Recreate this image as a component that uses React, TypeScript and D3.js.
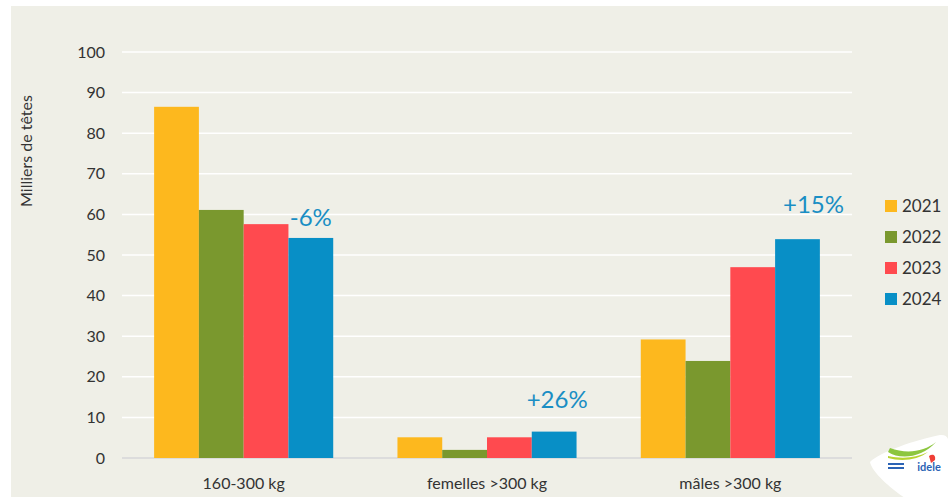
import { useEffect, useRef } from 'react';
import * as d3 from 'd3';

const categories = ['160-300 kg', 'femelles >300 kg', 'mâles >300 kg'];
const years = ['2021', '2022', '2023', '2024'];
const colors = ['#fdb81e', '#7a982e', '#ff4a4f', '#088fc6'];
// values per year, one entry per category (milliers de têtes)
const v2021 = [86.5, 5.1, 29.2];
const v2022 = [61.1, 2.0, 23.9];
const v2023 = [57.6, 5.1, 47.0];
const v2024 = [54.2, 6.5, 53.9];
const changes = ['-6%', '+26%', '+15%'];
const yTicks = [0, 10, 20, 30, 40, 50, 60, 70, 80, 90, 100];

export default function App() {
  const svgRef = useRef<SVGSVGElement>(null);

  useEffect(() => {
    if (!svgRef.current) return;
    const svg = d3.select(svgRef.current);
    svg.selectAll('*').remove();

    const W = 948, H = 498;
    const font = 'Lato, "Open Sans", sans-serif';
    const series = [v2021, v2022, v2023, v2024];

    svg.append('rect').attr('width', W).attr('height', H).attr('fill', '#ffffff');
    svg.append('rect').attr('x', 11).attr('y', 6).attr('width', W - 11).attr('height', H - 7).attr('fill', '#efefe7');

    const left = 122, right = 852, top = 52, bottom = 458;

    const x0 = d3.scaleBand<string>().domain(categories).range([left, right]).paddingInner(0.264).paddingOuter(0.132);
    const x1 = d3.scaleBand<string>().domain(years).range([0, x0.bandwidth()]);
    const y = d3.scaleLinear().domain([0, 100]).range([bottom, top]);

    // grid
    svg.append('g').selectAll('line').data(yTicks.filter(t => t > 0)).join('line')
      .attr('x1', left).attr('x2', right)
      .attr('y1', d => y(d)).attr('y2', d => y(d))
      .attr('stroke', '#ffffff').attr('stroke-width', 1.5);

    svg.append('line').attr('x1', left).attr('x2', right).attr('y1', y(0)).attr('y2', y(0))
      .attr('stroke', '#d6d6d8').attr('stroke-width', 1.5);

    // y tick labels
    svg.append('g').selectAll('text').data(yTicks).join('text')
      .attr('x', 105).attr('y', d => y(d)).attr('dy', '0.35em')
      .attr('text-anchor', 'end').attr('font-family', font).attr('font-size', 16).attr('fill', '#333')
      .text(d => d);

    svg.append('text')
      .attr('transform', `translate(32,151) rotate(-90)`)
      .attr('text-anchor', 'middle').attr('font-family', font).attr('font-size', 16).attr('fill', '#333')
      .text('Milliers de têtes');

    // bars
    const groups = svg.append('g').selectAll('g').data(categories).join('g')
      .attr('transform', d => `translate(${x0(d)},0)`);

    groups.selectAll('rect').data((_, ci) => years.map((yr, si) => ({ yr, si, v: series[si][ci] }))).join('rect')
      .attr('x', d => x1(d.yr)!)
      .attr('width', x1.bandwidth())
      .attr('y', d => y(d.v))
      .attr('height', d => y(0) - y(d.v))
      .attr('fill', d => colors[d.si]);

    // change labels above the 2024 bars
    const labelDx = [0, 3, 16];
    const labelVal = [v2024[0] + 5, 14.5, 62.5];
    svg.append('g').selectAll('text').data(categories).join('text')
      .attr('x', (c, i) => x0(c)! + x1('2024')! + x1.bandwidth() / 2 + labelDx[i])
      .attr('y', (_, i) => y(labelVal[i]))
      .attr('dy', '0.35em')
      .attr('text-anchor', 'middle').attr('font-family', font).attr('font-size', 24).attr('fill', '#1a8ec4')
      .text((_, i) => changes[i]);

    // x labels
    svg.append('g').selectAll('text').data(categories).join('text')
      .attr('x', c => x0(c)! + x0.bandwidth() / 2).attr('y', 489)
      .attr('text-anchor', 'middle').attr('font-family', font).attr('font-size', 16).attr('fill', '#333')
      .text(c => c);

    // legend
    const lg = svg.append('g').selectAll('g').data(years).join('g')
      .attr('transform', (_, i) => `translate(885,${206 + i * 31})`);
    lg.append('rect').attr('x', 0).attr('y', -6).attr('width', 12).attr('height', 12)
      .attr('fill', (_, i) => colors[i]);
    lg.append('text').attr('x', 17).attr('dy', '0.35em')
      .attr('font-family', font).attr('font-size', 17).attr('fill', '#333')
      .text(d => d);

    // logo
    const logo = svg.append('g');
    logo.append('path')
      .attr('d', 'M870,462 C880,452 915,440 940,435 C948,434 950,440 948,450 L948,498 L905,498 C890,488 872,472 870,462 Z')
      .attr('fill', '#ffffff');
    logo.append('path').attr('d', 'M888,452 C900,460 922,458 936,442 C924,452 906,454 890,448 Z').attr('fill', '#8cc63f');
    logo.append('path').attr('d', 'M888,458 C902,462 918,460 928,452 C916,458 902,459 888,456 Z').attr('fill', '#b8d432');
    logo.append('path').attr('d', 'M929,456 C932,454 936,454 935,460 L931,463 Z').attr('fill', '#ef3e36');
    logo.append('text').attr('x', 929).attr('y', 471).attr('text-anchor', 'middle')
      .attr('font-family', font).attr('font-weight', 700).attr('font-size', 11).attr('fill', '#2b63b5')
      .text('idele');
    logo.append('rect').attr('x', 888).attr('y', 463).attr('width', 16).attr('height', 2).attr('fill', '#2b63b5');
    logo.append('rect').attr('x', 888).attr('y', 467).attr('width', 16).attr('height', 2).attr('fill', '#2b63b5');
  }, []);

  return <svg ref={svgRef} width={948} height={498} style={{ position: 'absolute', left: 0, top: 0 }} />;
}
